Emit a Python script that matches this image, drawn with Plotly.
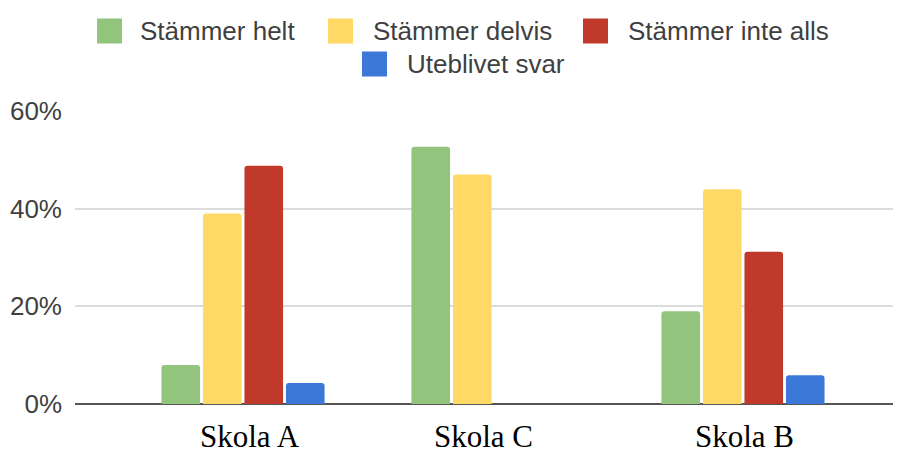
import plotly.graph_objects as go

categories = ["Skola A", "Skola C", "Skola B"]
series_names = ["Stämmer helt", "Stämmer delvis", "Stämmer inte alls", "Uteblivet svar"]
stammer_helt = [0.08, 0.527, 0.19]
stammer_delvis = [0.39, 0.47, 0.44]
stammer_inte_alls = [0.488, 0.0, 0.312]
uteblivet_svar = [0.043, 0.0, 0.059]
y_ticks = [0, 0.2, 0.4, 0.6]
colors = ["#93c47d", "#ffd966", "#c0392b", "#3c78d8"]

values = [stammer_helt, stammer_delvis, stammer_inte_alls, uteblivet_svar]

OFF = 8  # page body margin in the browser
W, H = 901 - OFF, 450 - OFF
ML, MR, MT, MB = 75 - OFF, 0, 111 - OFF, 46
PW = W - ML - MR
PH = H - MT - MB

fig = go.Figure()
for name, vals, col in zip(series_names, values, colors):
    fig.add_trace(go.Bar(x=categories, y=vals, name=name, marker_color=col,
                         marker_line_width=0, showlegend=False))

# page-pixel -> paper conversion
def px_x(px):
    return (px - OFF - ML) / PW

def px_y(py):
    return (H - MB - (py - OFF)) / PH

# manual legend (large swatches like the reference)
swatch_x = [97, 328, 583, 362]
text_x = [138, 371, 626, 405]
row_y = [31, 31, 31, 64]
shapes = []
annotations = []
for i, name in enumerate(series_names):
    sx, ty = swatch_x[i], row_y[i]
    shapes.append(dict(type="rect", xref="paper", yref="paper",
                       x0=px_x(sx), x1=px_x(sx + 25), y0=px_y(ty - 12.5), y1=px_y(ty + 12.5),
                       fillcolor=colors[i], line=dict(width=0)))
    annotations.append(dict(text=name, xref="paper", yref="paper",
                            x=px_x(text_x[i]), y=px_y(ty), xanchor="left", yanchor="middle",
                            showarrow=False,
                            font=dict(family="Liberation Sans, Arial", size=26, color="#3f3f3f")))

# category labels (placed slightly off-centre, as in the reference)
label_shift = [7, -10, 1]
for cat, dx in zip(categories, label_shift):
    annotations.append(dict(text=cat, x=cat, xref="x", y=0, yref="paper",
                            xanchor="center", yanchor="top", xshift=dx, yshift=-13,
                            showarrow=False,
                            font=dict(family="Liberation Serif, Times New Roman", size=31, color="#000000")))

fig.update_layout(
    width=W, height=H,
    margin=dict(l=ML, r=MR, t=MT, b=MB, pad=0),
    paper_bgcolor="white", plot_bgcolor="white",
    barmode="group", bargap=0.336, bargroupgap=0.07, barcornerradius=3,
    shapes=shapes, annotations=annotations,
    xaxis=dict(range=[-0.672, 2.632], showgrid=False, showline=False, zeroline=False,
               ticks="", showticklabels=False),
    yaxis=dict(range=[0, 0.6], tickvals=y_ticks, tickformat=".0%",
               showgrid=True, gridcolor="#dcdcdc", gridwidth=1.5,
               zeroline=True, zerolinecolor="#555555", zerolinewidth=2,
               showline=False, ticks="", ticklabelstandoff=12,
               tickfont=dict(family="Liberation Sans, Arial", size=26, color="#3f3f3f")),
)

fig.write_html("out.html")
